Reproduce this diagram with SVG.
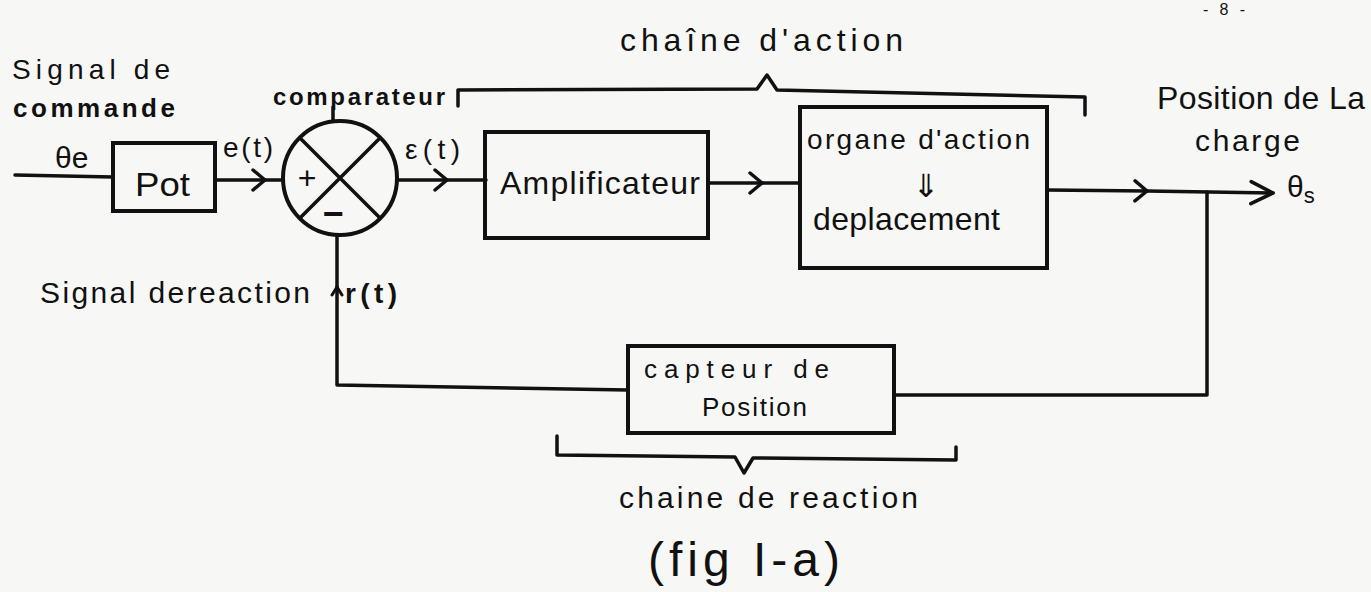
<svg xmlns="http://www.w3.org/2000/svg" width="1371" height="592" viewBox="0 0 1371 592">
<defs>
<style>
.ln{fill:none;stroke:#111;stroke-width:3.5;stroke-linecap:round;stroke-linejoin:round}
.bx{fill:none;stroke:#111;stroke-width:4}
.t{font-family:"Liberation Sans","DejaVu Sans",sans-serif;fill:#111}
.b{font-weight:bold}
</style>
<marker id="chev" viewBox="-14 -12 16 24" markerWidth="16" markerHeight="24" refX="0" refY="0" orient="auto" markerUnits="userSpaceOnUse">
<path d="M-12,-10 L0,0 L-12,10" fill="none" stroke="#111" stroke-width="3.5" stroke-linecap="round" stroke-linejoin="round"/>
</marker>
<marker id="head" viewBox="-26 -14 28 28" markerWidth="28" markerHeight="28" refX="0" refY="0" orient="auto" markerUnits="userSpaceOnUse">
<path d="M-22,-11 L0,0 L-22,11" fill="none" stroke="#111" stroke-width="3.5" stroke-linecap="round" stroke-linejoin="round"/>
</marker>
<marker id="up" viewBox="-10 -10 20 20" markerWidth="20" markerHeight="20" refX="0" refY="0" orient="auto" markerUnits="userSpaceOnUse">
<path d="M-8,-5 L0,0 L-8,5" fill="none" stroke="#111" stroke-width="3" stroke-linecap="round" stroke-linejoin="round"/>
</marker>
</defs>
<rect width="1371" height="592" fill="#f7f7f5"/>
<text class="t" x="1203" y="15" font-size="16" textLength="42" lengthAdjust="spacing">-8-</text>

<g id="connectors">
<path class="ln" d="M15,175 L113,177"/>
<path class="ln" d="M215,180 L265,180" marker-end="url(#chev)"/>
<path class="ln" d="M265,180 L283,180"/>
<path class="ln" d="M397,180 L447,180" marker-end="url(#chev)"/>
<path class="ln" d="M447,180 L486,180"/>
<path class="ln" d="M708,183 L762,183" marker-end="url(#chev)"/>
<path class="ln" d="M762,183 L800,183"/>
<path class="ln" d="M1047,190 L1147,191" marker-end="url(#chev)"/>
<path class="ln" d="M1147,191 L1273,193" marker-end="url(#head)"/>
<path class="ln" d="M1207,192 L1207,395 L894,395"/>
<path class="ln" d="M628,390 L337,385 L337,287" marker-end="url(#up)"/>
<path class="ln" d="M337,287 L337,236"/>
<path class="ln" d="M333,107 L333,121"/>
</g>

<g id="pot">
<rect class="bx" x="113" y="143" width="102" height="68"/>
<text class="t" x="135" y="196" font-size="34" textLength="55" lengthAdjust="spacingAndGlyphs">Pot</text>
</g>

<g id="comparateur">
<circle class="bx" cx="340" cy="178" r="57"/>
<path class="ln" d="M300,138 L380,218 M380,138 L300,218"/>
<text class="t" x="307" y="189" font-size="32" text-anchor="middle">+</text>
<text class="t b" x="333" y="226" font-size="36" text-anchor="middle">−</text>
<text class="t b" x="273" y="105" font-size="24" textLength="172" lengthAdjust="spacing">comparateur</text>
</g>

<g id="amplificateur">
<rect class="bx" x="485" y="132" width="223" height="106"/>
<text class="t" x="500" y="194" font-size="32" textLength="200" lengthAdjust="spacing">Amplificateur</text>
</g>

<g id="organe">
<rect class="bx" x="800" y="107" width="247" height="161"/>
<text class="t" x="807" y="149" font-size="28" textLength="223" lengthAdjust="spacing">organe d'action</text>
<text class="t" x="926" y="197" font-size="32" text-anchor="middle">⇓</text>
<text class="t" x="813" y="230" font-size="32" textLength="187" lengthAdjust="spacing">deplacement</text>
</g>

<g id="capteur">
<rect class="bx" x="628" y="346" width="266" height="87"/>
<text class="t" x="644" y="378" font-size="26" textLength="185" lengthAdjust="spacing">capteur de</text>
<text class="t" x="702" y="416" font-size="26" textLength="105" lengthAdjust="spacing">Position</text>
</g>

<g id="chaine-action">
<path class="ln" d="M458,106 L458,90 L757,89 L767,75 L777,90 L1085,97 L1085,115"/>
<text class="t" x="620" y="51" font-size="32" textLength="283" lengthAdjust="spacing">chaîne d'action</text>
</g>

<g id="chaine-reaction">
<path class="ln" d="M557,436 L557,455 L735,457 L744,473 L753,458 L956,460 L956,447"/>
<text class="t" x="619" y="508" font-size="30" textLength="299" lengthAdjust="spacing">chaine de reaction</text>
</g>

<g id="labels">
<text class="t" x="12" y="79" font-size="28" textLength="158" lengthAdjust="spacing">Signal de</text>
<text class="t b" x="13" y="117" font-size="26" textLength="162" lengthAdjust="spacing">commande</text>
<text class="t" x="55" y="168" font-size="30">θe</text>
<text class="t" x="223" y="157" font-size="28" textLength="50" lengthAdjust="spacing">e(t)</text>
<text class="t" x="405" y="159" font-size="28" textLength="55" lengthAdjust="spacing">ε(t)</text>
<text class="t" x="1157" y="109" font-size="32" textLength="208" lengthAdjust="spacing">Position de La</text>
<text class="t" x="1195" y="151" font-size="30" textLength="105" lengthAdjust="spacing">charge</text>
<text class="t" x="1287" y="197" font-size="30">θ<tspan font-size="22" dy="6">s</tspan></text>
<text class="t" x="40" y="303" font-size="30" textLength="270" lengthAdjust="spacing">Signal dereaction</text>
<text class="t b" x="345" y="303" font-size="28" textLength="52" lengthAdjust="spacing">r(t)</text>
<text class="t" x="648" y="576" font-size="48" textLength="192" lengthAdjust="spacing">(fig I-a)</text>
</g>
</svg>
